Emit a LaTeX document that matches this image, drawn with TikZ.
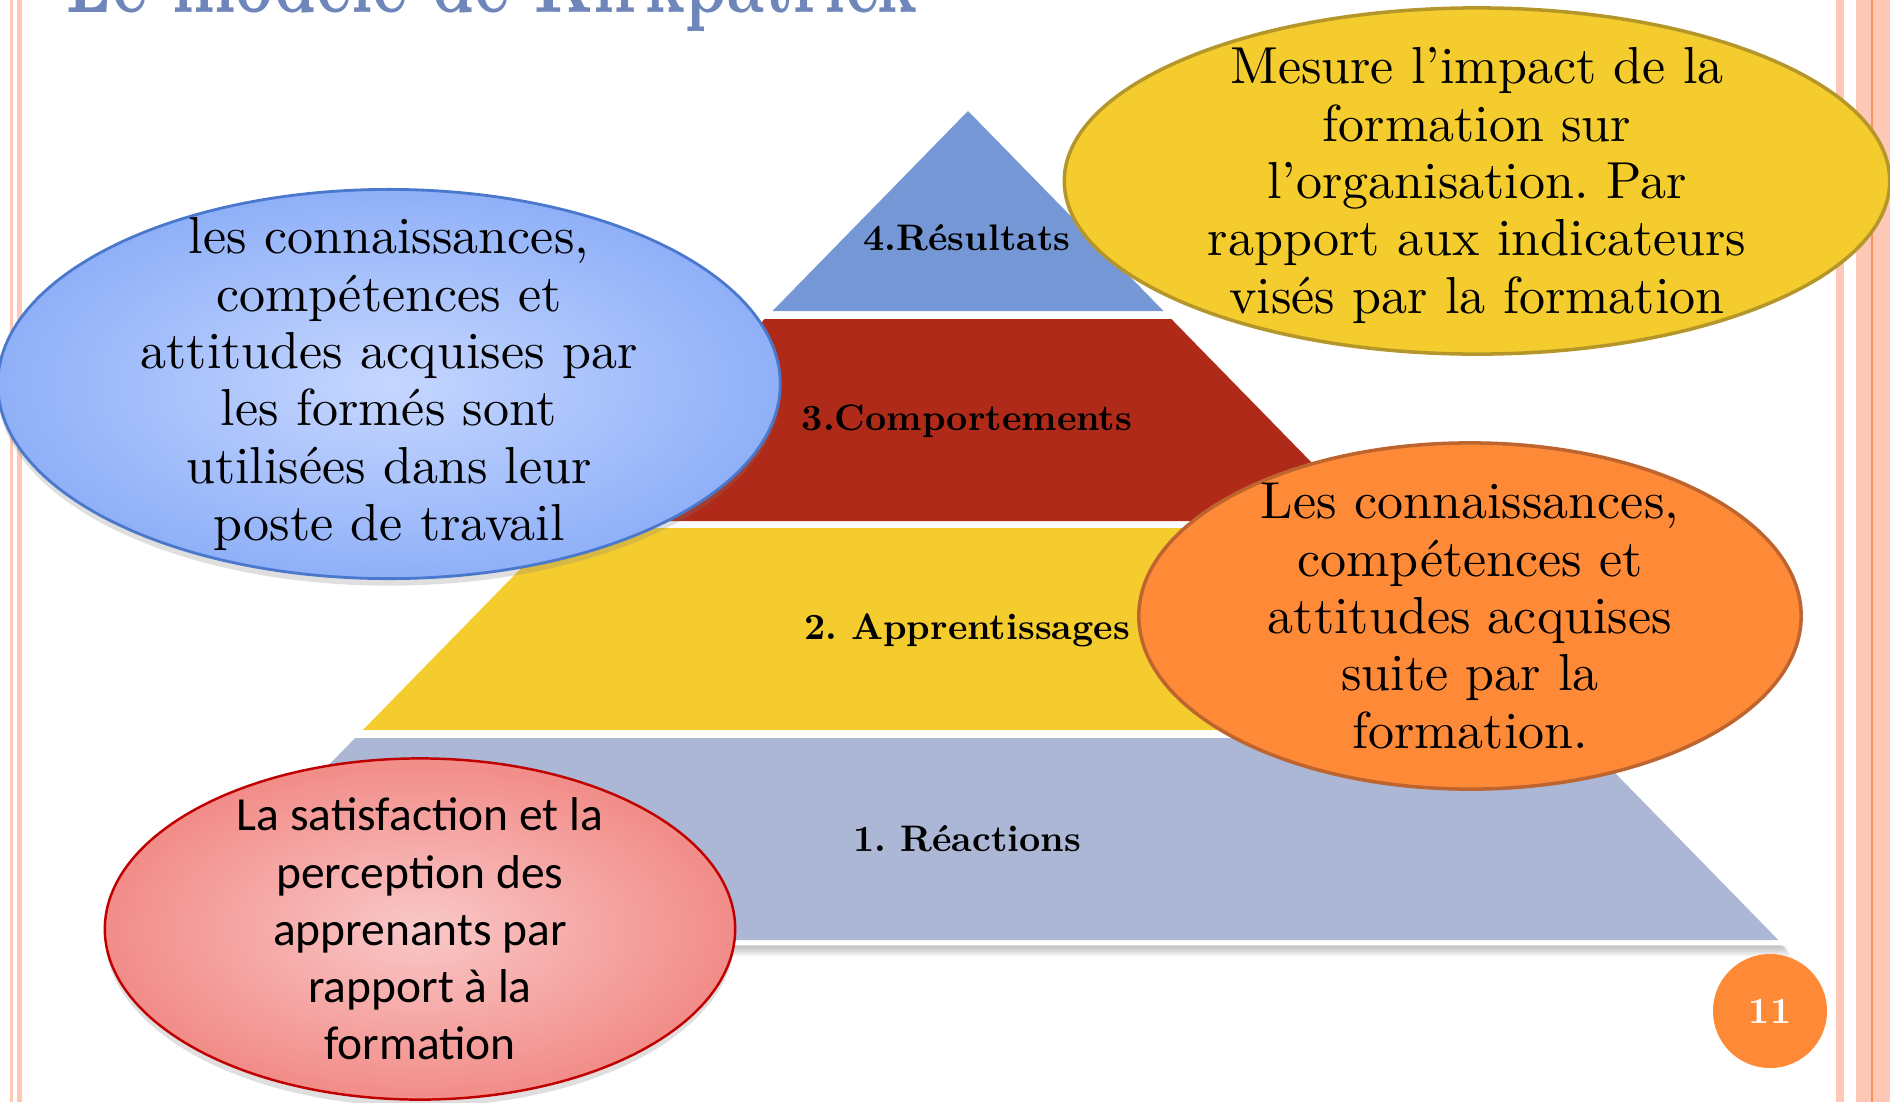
\documentclass[tikz,border=0pt]{standalone}
\usepackage{fontspec}
\setmainfont{lmroman10-regular}[Extension=.otf, BoldFont=lmroman10-bold]
\newfontfamily\calibrifont{Carlito}
\usetikzlibrary{shapes.geometric}
\usetikzlibrary{shadows}
\usepackage{xcolor}

\definecolor{borderpale}{HTML}{FDC9B6}
\definecolor{borderdark}{HTML}{F7935F}
\definecolor{titleblue}{HTML}{6E86BA}
\definecolor{lvlblue}{HTML}{7597D5}
\definecolor{lvlred}{HTML}{AF2A18}
\definecolor{lvlyellow}{HTML}{F4CC2E}
\definecolor{lvlgrey}{HTML}{ABB7D4}
\definecolor{notebluein}{HTML}{C6D7FF}
\definecolor{noteblueout}{HTML}{8FB0F8}
\definecolor{noteblueline}{HTML}{4A78CC}
\definecolor{noteyellowline}{HTML}{B5962A}
\definecolor{noteorange}{HTML}{FE8A38}
\definecolor{noteorangeline}{HTML}{BE642F}
\definecolor{noteredin}{HTML}{F9C8C8}
\definecolor{noteredout}{HTML}{F28C88}
\definecolor{noteredline}{HTML}{C00000}

\tikzset{
    bubble/.style={ellipse, inner sep=0pt},
    bubbletext/.style={align=center, inner sep=0pt, font=\fontsize{14.8}{16.3}\selectfont},
    lvllabel/.style={anchor=base, font=\fontsize{10.5}{12}\selectfont\bfseries},
}

\frenchspacing

\begin{document}
\begin{tikzpicture}[x=0.01cm, y=-0.01cm]

\clip (0,0) rectangle (1890,1102);

% side borders
\fill[borderpale] (10,0) rectangle (13,1102);
\fill[borderpale] (17,0) rectangle (22,1102);
\fill[borderpale] (1836,0) rectangle (1844,1102);
\fill[borderpale] (1856,0) rectangle (1890,1102);
\fill[borderdark] (1871,0) rectangle (1873,1102);

% title, cut at the top
\node[anchor=base west, inner sep=0pt, text=titleblue, font=\fontsize{18.7}{22}\selectfont\bfseries] (title) at (66,12) {\scalebox{1}[1.5]{Le modèle de Kirkpatrick}};

% pyramid: shadow, white outline, then the levels
\foreach \k in {1,...,5}
    \fill[black, opacity=0.05] (968,{104+2*\k}) -- ({1786+\k},{946+2*\k}) -- ({150-\k},{946+2*\k}) -- cycle;
\filldraw[white, line width=3pt, line join=miter] (968,111) -- (1778,940) -- (158,940) -- cycle;

\def\levels{111/311/lvlblue, 319/521/lvlred, 528/730/lvlyellow, 738/940/lvlgrey}
\foreach \yt/\yb/\col in \levels {
    \fill[\col] ({968-(\yt-111)*0.9775},\yt) -- ({968+(\yt-111)*0.9775},\yt)
        -- ({968+(\yb-111)*0.9775},\yb) -- ({968-(\yb-111)*0.9775},\yb) -- cycle;
}

\foreach [count=\i] \yb/\lab in {851/{1. Réactions}, 639/{2. Apprentissages}, 430/{3.Comportements}, 250/{4.Résultats}}
    \node[lvllabel] (lvl\i) at (967,\yb) {\lab};

% notes round the pyramid
\node[bubble, minimum width=7.82cm, minimum height=3.89cm, draw=noteblueline, line width=0.8pt,
    inner color=notebluein, outer color=noteblueout,
    drop shadow={shadow xshift=0pt, shadow yshift=-2pt, opacity=0.25}] (noteComport) at (389,384) {};
\node[bubbletext] (noteComportTxt) at (noteComport.center)
    {les connaissances,\\ compétences et\\ attitudes acquises par\\ les formés sont\\ utilisées dans leur\\ poste de travail};

\node[bubble, minimum width=8.25cm, minimum height=3.46cm, draw=noteyellowline, line width=1pt,
    fill=lvlyellow] (noteResult) at (1477,181) {};
\node[bubbletext, yshift=-1.3pt] (noteResultTxt) at (noteResult.center)
    {Mesure l’impact de la\\ formation sur\\ l’organisation. Par\\ rapport aux indicateurs\\ visés par la formation};

\node[bubble, minimum width=6.62cm, minimum height=3.46cm, draw=noteorangeline, line width=1pt,
    fill=noteorange] (noteApprent) at (1470,616) {};
\node[bubbletext] (noteApprentTxt) at (noteApprent.center)
    {Les connaissances,\\ compétences et\\ attitudes acquises\\ suite par la\\ formation.};

\node[bubble, minimum width=6.30cm, minimum height=3.41cm, draw=noteredline, line width=0.7pt,
    inner color=noteredin, outer color=noteredout,
    drop shadow={shadow xshift=0pt, shadow yshift=-2pt, opacity=0.25}] (noteReact) at (420,929) {};
\node[bubbletext, font=\calibrifont\fontsize{13.5}{16.3}\selectfont] (noteReactTxt) at (noteReact.center)
    {La satisfaction et la\\ perception des\\ apprenants par\\ rapport à la\\ formation};

% page number
\node[circle, fill=noteorange, minimum size=1.14cm, inner sep=0pt, text=white, font=\fontsize{10.5}{13}\selectfont\bfseries] (pagenum) at (1770,1011) {11};

\end{tikzpicture}
\end{document}
